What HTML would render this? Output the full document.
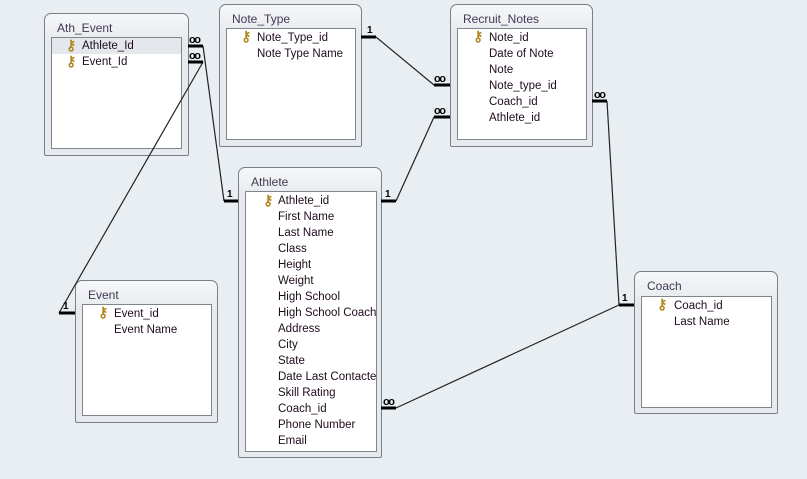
<!DOCTYPE html>
<html><head><meta charset="utf-8"><style>
html,body{margin:0;padding:0}
body{width:807px;height:479px;background:#e9eef2;position:relative;overflow:hidden;font-family:"Liberation Sans",sans-serif}
.t{position:absolute;border:1px solid #7a7f86;border-radius:7px 7px 2px 2px;background:linear-gradient(#f6f7f9,#e6e9ed 30px,#e6e9ed);box-sizing:border-box}
.t .h{position:absolute;left:12px;top:7px;font-size:12px;color:#3e3a52}
.t .l{position:absolute;background:#fff;border:1px solid #80858b;box-sizing:border-box;overflow:hidden}
.r{position:absolute;height:16px;line-height:16px;font-size:11.5px;color:#1e0c1e;white-space:nowrap}
.k{position:absolute;font-size:14px;line-height:14px;color:#b08a20;font-weight:bold}
.hl{position:absolute;left:0;right:0;height:16px;background:#e4e7eb}
svg{position:absolute;left:0;top:0}
</style></head><body>

<div class="t" style="left:44px;top:13px;width:145px;height:143px">
<div class="h">Ath_Event</div>
<div class="l" style="left:6px;top:23px;width:131px;height:112px">
<div class="hl" style="top:0"></div>
<div class="k" style="left:14px;top:0px">⚷</div><div class="r" style="left:30px;top:0">Athlete_Id</div>
<div class="k" style="left:14px;top:16px">⚷</div><div class="r" style="left:30px;top:16px">Event_Id</div>
</div></div>

<div class="t" style="left:219px;top:4px;width:143px;height:143px">
<div class="h">Note_Type</div>
<div class="l" style="left:6px;top:23px;width:130px;height:112px">
<div class="k" style="left:14px;top:0px">⚷</div><div class="r" style="left:30px;top:1px">Note_Type_id</div>
<div class="r" style="left:30px;top:17px">Note Type Name</div>
</div></div>

<div class="t" style="left:450px;top:4px;width:143px;height:143px">
<div class="h">Recruit_Notes</div>
<div class="l" style="left:6px;top:23px;width:130px;height:112px">
<div class="k" style="left:15px;top:0px">⚷</div><div class="r" style="left:31px;top:1px">Note_id</div>
<div class="r" style="left:31px;top:17px">Date of Note</div>
<div class="r" style="left:31px;top:33px">Note</div>
<div class="r" style="left:31px;top:49px">Note_type_id</div>
<div class="r" style="left:31px;top:65px">Coach_id</div>
<div class="r" style="left:31px;top:81px">Athlete_id</div>
</div></div>

<div class="t" style="left:238px;top:167px;width:144px;height:291px">
<div class="h">Athlete</div>
<div class="l" style="left:6px;top:23px;width:132px;height:261px">
<div class="k" style="left:17px;top:1px">⚷</div>
<div class="r" style="left:32px;top:1px">Athlete_id</div>
<div class="r" style="left:32px;top:17px">First Name</div>
<div class="r" style="left:32px;top:33px">Last Name</div>
<div class="r" style="left:32px;top:49px">Class</div>
<div class="r" style="left:32px;top:65px">Height</div>
<div class="r" style="left:32px;top:81px">Weight</div>
<div class="r" style="left:32px;top:97px">High School</div>
<div class="r" style="left:32px;top:113px">High School Coach</div>
<div class="r" style="left:32px;top:129px">Address</div>
<div class="r" style="left:32px;top:145px">City</div>
<div class="r" style="left:32px;top:161px">State</div>
<div class="r" style="left:32px;top:177px">Date Last Contacted</div>
<div class="r" style="left:32px;top:193px">Skill Rating</div>
<div class="r" style="left:32px;top:209px">Coach_id</div>
<div class="r" style="left:32px;top:225px">Phone Number</div>
<div class="r" style="left:32px;top:241px">Email</div>
</div></div>

<div class="t" style="left:75px;top:280px;width:143px;height:143px">
<div class="h">Event</div>
<div class="l" style="left:6px;top:23px;width:130px;height:112px">
<div class="k" style="left:15px;top:0px">⚷</div><div class="r" style="left:31px;top:1px">Event_id</div>
<div class="r" style="left:31px;top:17px">Event Name</div>
</div></div>

<div class="t" style="left:634px;top:271px;width:144px;height:143px">
<div class="h">Coach</div>
<div class="l" style="left:6px;top:24px;width:131px;height:112px">
<div class="k" style="left:15px;top:0px">⚷</div><div class="r" style="left:32px;top:1px">Coach_id</div>
<div class="r" style="left:32px;top:17px">Last Name</div>
</div></div>

<svg width="807" height="479">
<g stroke="#222" stroke-width="1.2" fill="none">
<line x1="203" y1="46" x2="224" y2="201"/>
<line x1="203" y1="62" x2="59" y2="313"/>
<line x1="376" y1="37" x2="434" y2="85"/>
<line x1="396" y1="201" x2="434" y2="117"/>
<line x1="607" y1="101" x2="619" y2="305"/>
<line x1="396" y1="408" x2="619" y2="305"/>
</g>
<g stroke="#000" stroke-width="3">
<line x1="188" y1="46" x2="203" y2="46"/>
<line x1="188" y1="62" x2="203" y2="62"/>
<line x1="224" y1="201" x2="238" y2="201"/>
<line x1="59" y1="313" x2="75" y2="313"/>
<line x1="361" y1="37" x2="376" y2="37"/>
<line x1="434" y1="85" x2="450" y2="85"/>
<line x1="434" y1="117" x2="450" y2="117"/>
<line x1="381" y1="201" x2="396" y2="201"/>
<line x1="592" y1="101" x2="607" y2="101"/>
<line x1="619" y1="305" x2="634" y2="305"/>
<line x1="381" y1="408" x2="396" y2="408"/>
</g>
<g font-family="Liberation Sans" font-weight="bold" font-size="10" fill="#000">
<text x="227" y="197">1</text><text x="63" y="309">1</text>
<text x="367" y="33">1</text>
<text x="385" y="197">1</text>
<text x="622" y="301">1</text>
</g>
<g font-family="Liberation Sans" font-weight="bold" font-size="11" fill="#000" letter-spacing="-1.5">
<text x="189" y="43">oo</text><text x="189" y="59">oo</text>
<text x="434" y="82">oo</text><text x="434" y="114">oo</text>
<text x="594" y="98">oo</text>
<text x="383" y="405">oo</text>
</g>
</svg>
</body></html>
